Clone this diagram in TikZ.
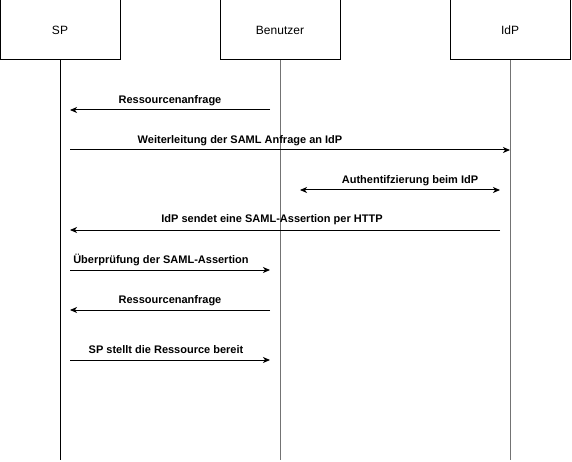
\documentclass[tikz,border=0pt]{standalone}
\usepackage{fontspec}
\setmainfont{Liberation Sans}
\usetikzlibrary{arrows.meta}
\begin{document}
\begin{tikzpicture}[x=1pt,y=-1pt,
  actor/.style={draw=black,line width=1pt,minimum width=120pt,minimum height=60pt,inner sep=0pt,font=\fontsize{12}{14}\selectfont},
  life/.style={line width=1pt},
  msg/.style={line width=1pt,-{Stealth[length=7pt,width=6pt,inset=2pt]}},
  msgboth/.style={line width=1pt,{Stealth[length=7pt,width=6pt,inset=2pt]}-{Stealth[length=7pt,width=6pt,inset=2pt]}},
  lbl/.style={font=\fontsize{11}{13}\selectfont\bfseries,inner sep=0pt}]
\useasboundingbox (0,0) rectangle (572,462);
\node[actor] (sp) at (60,30) {SP};
\node[actor] (ben) at (280,30) {Benutzer};
\node[actor] (idp) at (510,30) {IdP};
\coordinate (spend) at (60,460);
\coordinate (benend) at (280,460);
\coordinate (idpend) at (510,460);
\draw[life,black] (sp.south) -- (spend);
\draw[life,black!55] (ben.south) -- (benend);
\draw[life,black!55] (idp.south) -- (idpend);
% message end points
\coordinate (a1s) at (270,110); \coordinate (a1e) at (70,110);
\coordinate (a2s) at (70,150);  \coordinate (a2e) at (510,150);
\coordinate (a3s) at (300,190); \coordinate (a3e) at (500,190);
\coordinate (a4s) at (500,230); \coordinate (a4e) at (70,230);
\coordinate (a5s) at (70,270);  \coordinate (a5e) at (270,270);
\coordinate (a6s) at (270,310); \coordinate (a6e) at (70,310);
\coordinate (a7s) at (70,360);  \coordinate (a7e) at (270,360);
\draw[msg] (a1s) -- (a1e);
\draw[msg] (a2s) -- (a2e);
\draw[msgboth] (a3s) -- (a3e);
\draw[msg] (a4s) -- (a4e);
\draw[msg] (a5s) -- (a5e);
\draw[msg] (a6s) -- (a6e);
\draw[msg] (a7s) -- (a7e);
\node[lbl] (l1) at (170,100.5) {Ressourcenanfrage};
\node[lbl] (l2) at (240,140.5) {Weiterleitung der SAML Anfrage an IdP};
\node[lbl] (l3) at (410,180.5) {Authentifzierung beim IdP};
\node[lbl] (l4) at (272,219.5) {IdP sendet eine SAML-Assertion per HTTP};
\node[lbl] (l5) at (161,260) {Überprüfung der SAML-Assertion};
\node[lbl] (l6) at (170,300.5) {Ressourcenanfrage};
\node[lbl] (l7) at (166,350) {SP stellt die Ressource bereit};
\end{tikzpicture}
\end{document}
